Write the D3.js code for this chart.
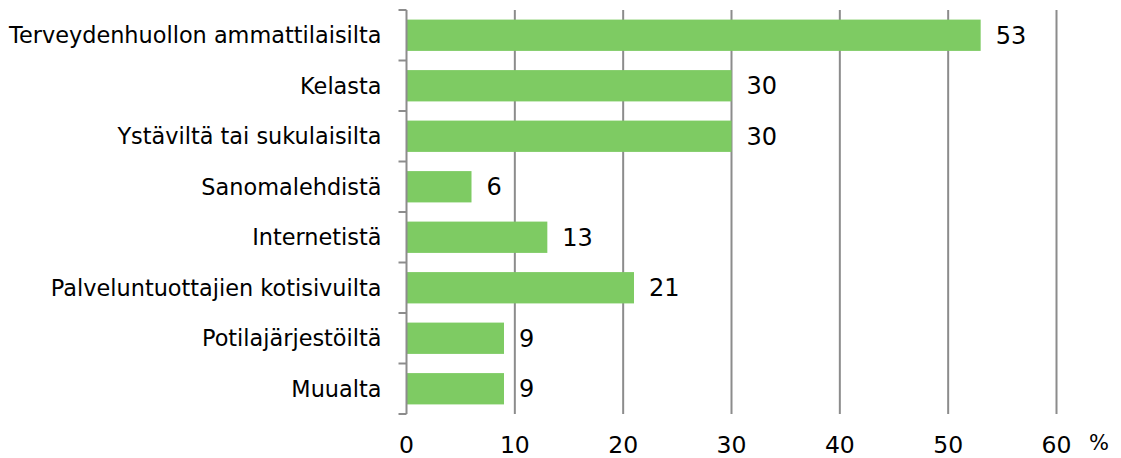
<!DOCTYPE html>
<html>
<head>
<meta charset="utf-8">
<script src="https://cdn.jsdelivr.net/npm/d3@7"></script>
<style>
  html, body { margin: 0; padding: 0; background: #fff; }
  svg { display: block; }
  text { font-family: "DejaVu Sans", Verdana, sans-serif; fill: #000; }
</style>
</head>
<body>
<svg id="chart" width="1121" height="458"></svg>
<script>
// Information sources (share of respondents, %)
const categories = [
  "Terveydenhuollon ammattilaisilta",
  "Kelasta",
  "Ystäviltä tai sukulaisilta",
  "Sanomalehdistä",
  "Internetistä",
  "Palveluntuottajien kotisivuilta",
  "Potilajärjestöiltä",
  "Muualta"
];
const values = [53, 30, 30, 6, 13, 21, 9, 9];
const xTicks = [0, 10, 20, 30, 40, 50, 60];
const unitLabel = "%";

const svg = d3.select("#chart");
const plot = { left: 406.5, right: 1056.5, top: 10, bottom: 414 };

const x = d3.scaleLinear().domain([0, 60]).range([plot.left, plot.right]);
const y = d3.scaleBand().domain(categories).range([plot.top, plot.bottom]).paddingInner(0.38).paddingOuter(0.19);
const yb = d3.scaleBand().domain(categories).range([plot.top, plot.bottom]);

// vertical gridlines
svg.append("g").selectAll("line").data(xTicks.filter(d => d > 0)).join("line")
  .attr("x1", d => x(d)).attr("x2", d => x(d))
  .attr("y1", plot.top).attr("y2", plot.bottom)
  .attr("stroke", "#8c8c8c").attr("stroke-width", 2);

// bars
svg.append("g").selectAll("rect").data(values).join("rect")
  .attr("x", x(0))
  .attr("y", (d, i) => y(categories[i]))
  .attr("width", d => x(d) - x(0))
  .attr("height", y.bandwidth())
  .attr("fill", "#7ecb63");

// value labels
svg.append("g").selectAll("text").data(values).join("text")
  .attr("x", d => x(d) + 15)
  .attr("y", (d, i) => y(categories[i]) + y.bandwidth() / 2)
  .attr("dy", "0.36em")
  .attr("font-size", 24)
  .text(d => d);

// category axis: line and boundary ticks
const yAxis = svg.append("g");
yAxis.append("line")
  .attr("x1", plot.left).attr("x2", plot.left).attr("y1", plot.top).attr("y2", plot.bottom)
  .attr("stroke", "#8c8c8c").attr("stroke-width", 2);
const bounds = categories.map(c => yb(c)).concat([plot.bottom]);
yAxis.selectAll("line.tick").data(bounds).join("line")
  .attr("class", "tick")
  .attr("x1", plot.left - 8).attr("x2", plot.left).attr("y1", d => d).attr("y2", d => d)
  .attr("stroke", "#8c8c8c").attr("stroke-width", 2);
yAxis.selectAll("text").data(categories).join("text")
  .attr("x", plot.left - 25)
  .attr("y", d => yb(d) + yb.bandwidth() / 2)
  .attr("dy", "0.36em")
  .attr("text-anchor", "end")
  .attr("font-size", 22.4)
  .text(d => d);

// value axis labels
svg.append("g").selectAll("text").data(xTicks).join("text")
  .attr("x", d => x(d))
  .attr("y", 453)
  .attr("text-anchor", "middle")
  .attr("font-size", 23.5)
  .text(d => d);

svg.append("text")
  .attr("x", 1099).attr("y", 450)
  .attr("text-anchor", "middle")
  .attr("font-size", 21)
  .text(unitLabel);
</script>
</body>
</html>
